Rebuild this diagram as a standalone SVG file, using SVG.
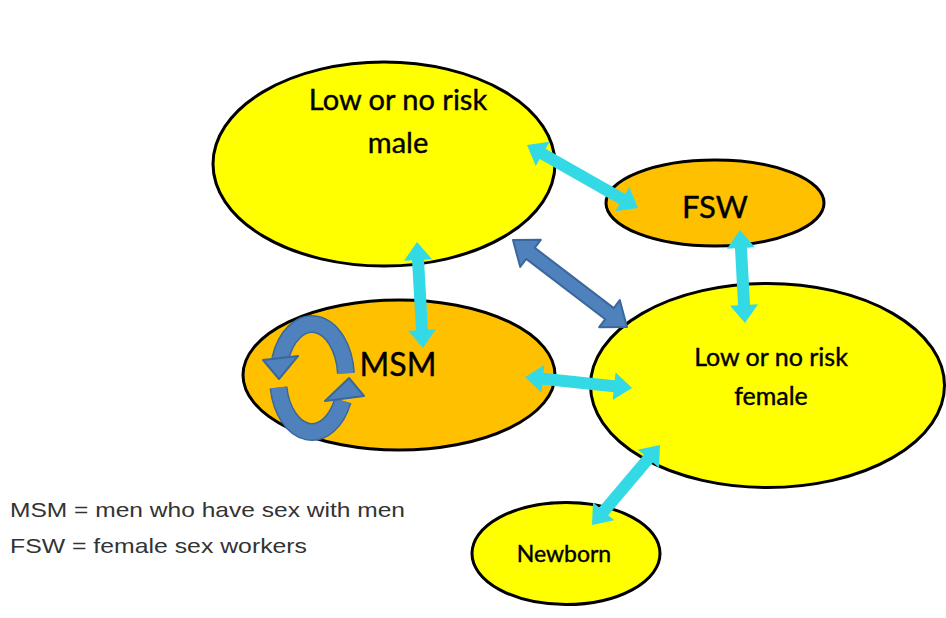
<svg xmlns="http://www.w3.org/2000/svg" width="946" height="618" viewBox="0 0 946 618">
<style>
.node{stroke:#000;stroke-width:3}
.y{fill:#FFFF00}
.o{fill:#FFC000}
.lbl{font-family:Lato,"Open Sans","Liberation Sans",sans-serif;fill:#000;stroke:#000;stroke-width:0.4;text-anchor:middle}
.cy{fill:#33DAE6}
.bl{fill:#4F81BD;stroke:#3A679C;stroke-width:2;stroke-linejoin:round}
.ring{fill:none;stroke:#4F81BD;stroke-width:15}
.ringo{fill:none;stroke:#3A679C;stroke-width:18}
.leg{font-family:"Liberation Sans",Arial,sans-serif;font-size:21px;fill:#333}
</style>
<rect width="946" height="618" fill="#fff"/>
<g id="male"><ellipse class="node y" cx="384" cy="164" rx="171" ry="102"/>
<text class="lbl" x="398" y="110" font-size="29">Low or no risk</text>
<text class="lbl" x="398" y="153" font-size="29">male</text></g>
<g id="fsw"><ellipse class="node o" cx="715" cy="203" rx="109" ry="43"/>
<text class="lbl" x="715" y="218" font-size="31">FSW</text></g>
<g id="msm"><ellipse class="node o" cx="399" cy="375" rx="156" ry="75"/>
<text class="lbl" x="398" y="376" font-size="32">MSM</text>
<path class="ringo" d="M 345.9 373.3 A 34 54 0 0 0 280.1 359.5"/>
<path class="ring" d="M 345.9 373.3 A 34 54 0 0 0 280.1 359.5"/>
<polygon class="bl" points="263,360 298,356 279,379"/>
<path class="ringo" d="M 278.5 387.4 A 34 54 0 0 0 342.8 400.8"/>
<path class="ring" d="M 278.5 387.4 A 34 54 0 0 0 342.8 400.8"/>
<polygon class="bl" points="325,401 364,396 349,378"/></g>
<g id="female"><ellipse class="node y" cx="767.5" cy="385.5" rx="177" ry="102"/>
<text class="lbl" x="771" y="366" font-size="25">Low or no risk</text>
<text class="lbl" x="771" y="405" font-size="25">female</text></g>
<g id="newborn"><ellipse class="node y" cx="566" cy="553.5" rx="94" ry="51"/>
<text class="lbl" x="564" y="562" font-size="23">Newborn</text></g>
<g id="connectors">
<polygon class="cy" transform="translate(527,145) rotate(29.58)" points="0,0 18,-14 18,-6 109.6,-6 109.6,-14 127.6,0 109.6,14 109.6,6 18,6 18,14"/>
<polygon class="cy" transform="translate(417,242) rotate(86.76)" points="0,0 18,-14 18,-6 88.2,-6 88.2,-14 106.2,0 88.2,14 88.2,6 18,6 18,14"/>
<polygon class="cy" transform="translate(740,230) rotate(86.92)" points="0,0 18,-14 18,-6 75.1,-6 75.1,-14 93.1,0 75.1,14 75.1,6 18,6 18,14"/>
<polygon class="cy" transform="translate(525,377) rotate(5.87)" points="0,0 18,-14 18,-6 89.6,-6 89.6,-14 107.6,0 89.6,14 89.6,6 18,6 18,14"/>
<polygon class="cy" transform="translate(660,445) rotate(130.36)" points="0,0 18,-14 18,-6 87,-6 87,-14 105,0 87,14 87,6 18,6 18,14"/>
<polygon class="bl" transform="translate(513,240) rotate(37.35)" points="0,0 22,-17 22,-7 121.4,-7 121.4,-17 143.4,0 121.4,17 121.4,7 22,7 22,17"/>
</g>
<g id="legend">
<text class="leg" x="10" y="517" textLength="395" lengthAdjust="spacingAndGlyphs">MSM = men who have sex with men</text>
<text class="leg" x="10" y="553" textLength="297" lengthAdjust="spacingAndGlyphs">FSW = female sex workers</text>
</g>
</svg>
